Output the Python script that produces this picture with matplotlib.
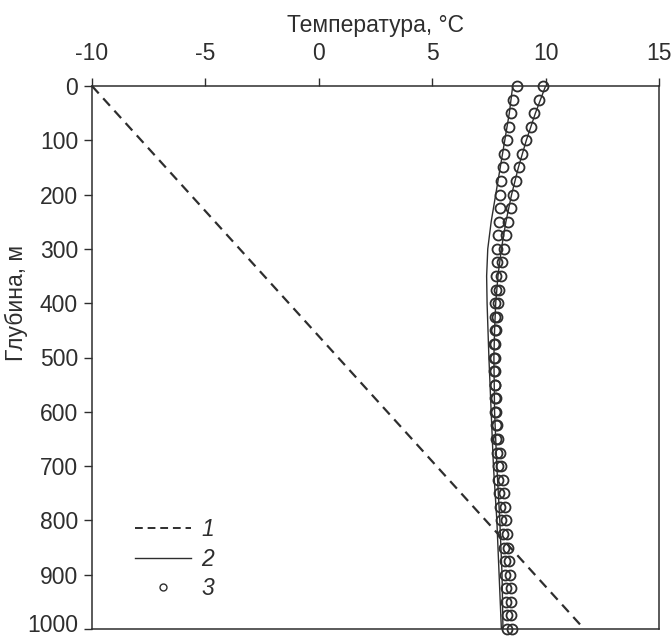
import matplotlib

matplotlib.use("Agg")
import matplotlib.pyplot as plt
import matplotlib.transforms as mtransforms
from matplotlib.lines import Line2D

plt.rcParams["font.family"] = ["Liberation Sans", "DejaVu Sans"]

INK = "#2e2e2e"

# 1 - linear profile (dashed)
dash_depth = [0, 1000]
dash_temp = [-10.0, 11.7]

# 2 - computed profiles (solid)
line_r_depth = [0, 50, 100, 150, 200, 250, 300, 350, 400, 450, 500, 600, 700, 800, 900, 1000]
line_r_temp = [10.0, 9.55, 9.15, 8.8, 8.5, 8.25, 8.05, 7.9, 7.8, 7.75, 7.72, 7.75, 7.85, 7.98, 8.08, 8.12]

line_l_depth = [0, 50, 100, 150, 200, 250, 300, 350, 400, 500, 600, 700, 800, 900, 1000]
line_l_temp = [8.55, 8.4, 8.2, 8.0, 7.8, 7.6, 7.45, 7.4, 7.42, 7.5, 7.6, 7.7, 7.85, 7.95, 8.05]

# 3 - measured points (circles), every 25 m
circ_depth = list(range(0, 1001, 25))
circ_a_temp = [8.73, 8.58, 8.48, 8.40, 8.30, 8.18, 8.10, 8.04, 8.00, 7.97,
               7.94, 7.91, 7.87, 7.84, 7.82, 7.80, 7.78, 7.76, 7.75, 7.74,
               7.74, 7.74, 7.75, 7.76, 7.78, 7.80, 7.82, 7.85, 7.88, 7.92,
               7.96, 8.00, 8.05, 8.10, 8.15, 8.20, 8.22, 8.25, 8.27, 8.28, 8.30]
circ_b_temp = [9.90, 9.72, 9.50, 9.35, 9.14, 8.98, 8.82, 8.68, 8.55, 8.46,
               8.35, 8.26, 8.16, 8.08, 8.02, 7.96, 7.90, 7.85, 7.80, 7.78,
               7.77, 7.77, 7.78, 7.80, 7.83, 7.87, 7.92, 7.98, 8.04, 8.10,
               8.16, 8.21, 8.26, 8.31, 8.36, 8.40, 8.44, 8.46, 8.48, 8.49, 8.50]

x_ticks = [-10, -5, 0, 5, 10, 15]
y_ticks = [0, 100, 200, 300, 400, 500, 600, 700, 800, 900, 1000]
legend_labels = ["1", "2", "3"]

FS = 16.5
DASH = (0, (4.5, 3))

fig = plt.figure(figsize=(6.72, 6.38), dpi=100)
ax = fig.add_axes([92 / 672, 1 - 629 / 638, (659 - 92) / 672, (629 - 86) / 638])

ax.plot(dash_temp, dash_depth, color=INK, lw=1.6, ls=DASH, clip_on=False)
ax.plot(line_r_temp, line_r_depth, color=INK, lw=1.0)
ax.plot(line_l_temp, line_l_depth, color=INK, lw=1.0)
for temps in (circ_a_temp, circ_b_temp):
    ax.plot(temps, circ_depth, ls="none", marker="o", ms=7.2, mfc="none",
            mec=INK, mew=1.3, clip_on=False)

ax.set_xlim(-10, 15)
ax.set_ylim(1000, 0)
ax.xaxis.tick_top()
ax.xaxis.set_label_position("top")
ax.set_xticks(x_ticks)
ax.set_xticklabels([str(v) for v in x_ticks])
ax.set_yticks(y_ticks)
ax.set_xlabel("Температура, °C", fontsize=FS, color=INK, labelpad=7)
ax.set_ylabel("Глубина, м", fontsize=FS, color=INK)
ax.yaxis.set_label_coords(-0.113, 0.6)
ax.tick_params(axis="both", labelsize=FS, colors=INK, length=6, width=1,
               direction="out")
ax.tick_params(axis="x", pad=9)
ax.tick_params(axis="y", pad=4)
for s in ax.spines.values():
    s.set_color(INK)
    s.set_linewidth(1.1)

# keep the bottom label inside the canvas
last = ax.get_yticklabels()[-1]
last.set_transform(last.get_transform() +
                   mtransforms.ScaledTranslation(0, 4 / 72, fig.dpi_scale_trans))

handles = [
    Line2D([], [], color=INK, lw=1.4, ls=(0, (4, 2.5))),
    Line2D([], [], color=INK, lw=1.0),
    Line2D([], [], ls="none", marker="o", ms=5, mfc="none", mec=INK, mew=1.0),
]
leg = ax.legend(handles, legend_labels, loc="upper left", bbox_to_anchor=(0.076, 0.205),
                frameon=False, borderpad=0, borderaxespad=0, handlelength=2.45,
                handletextpad=0.45, labelspacing=0.3,
                prop={"style": "italic", "size": FS})
for t in leg.get_texts():
    t.set_color(INK)

fig.savefig("out.png", dpi=100)
